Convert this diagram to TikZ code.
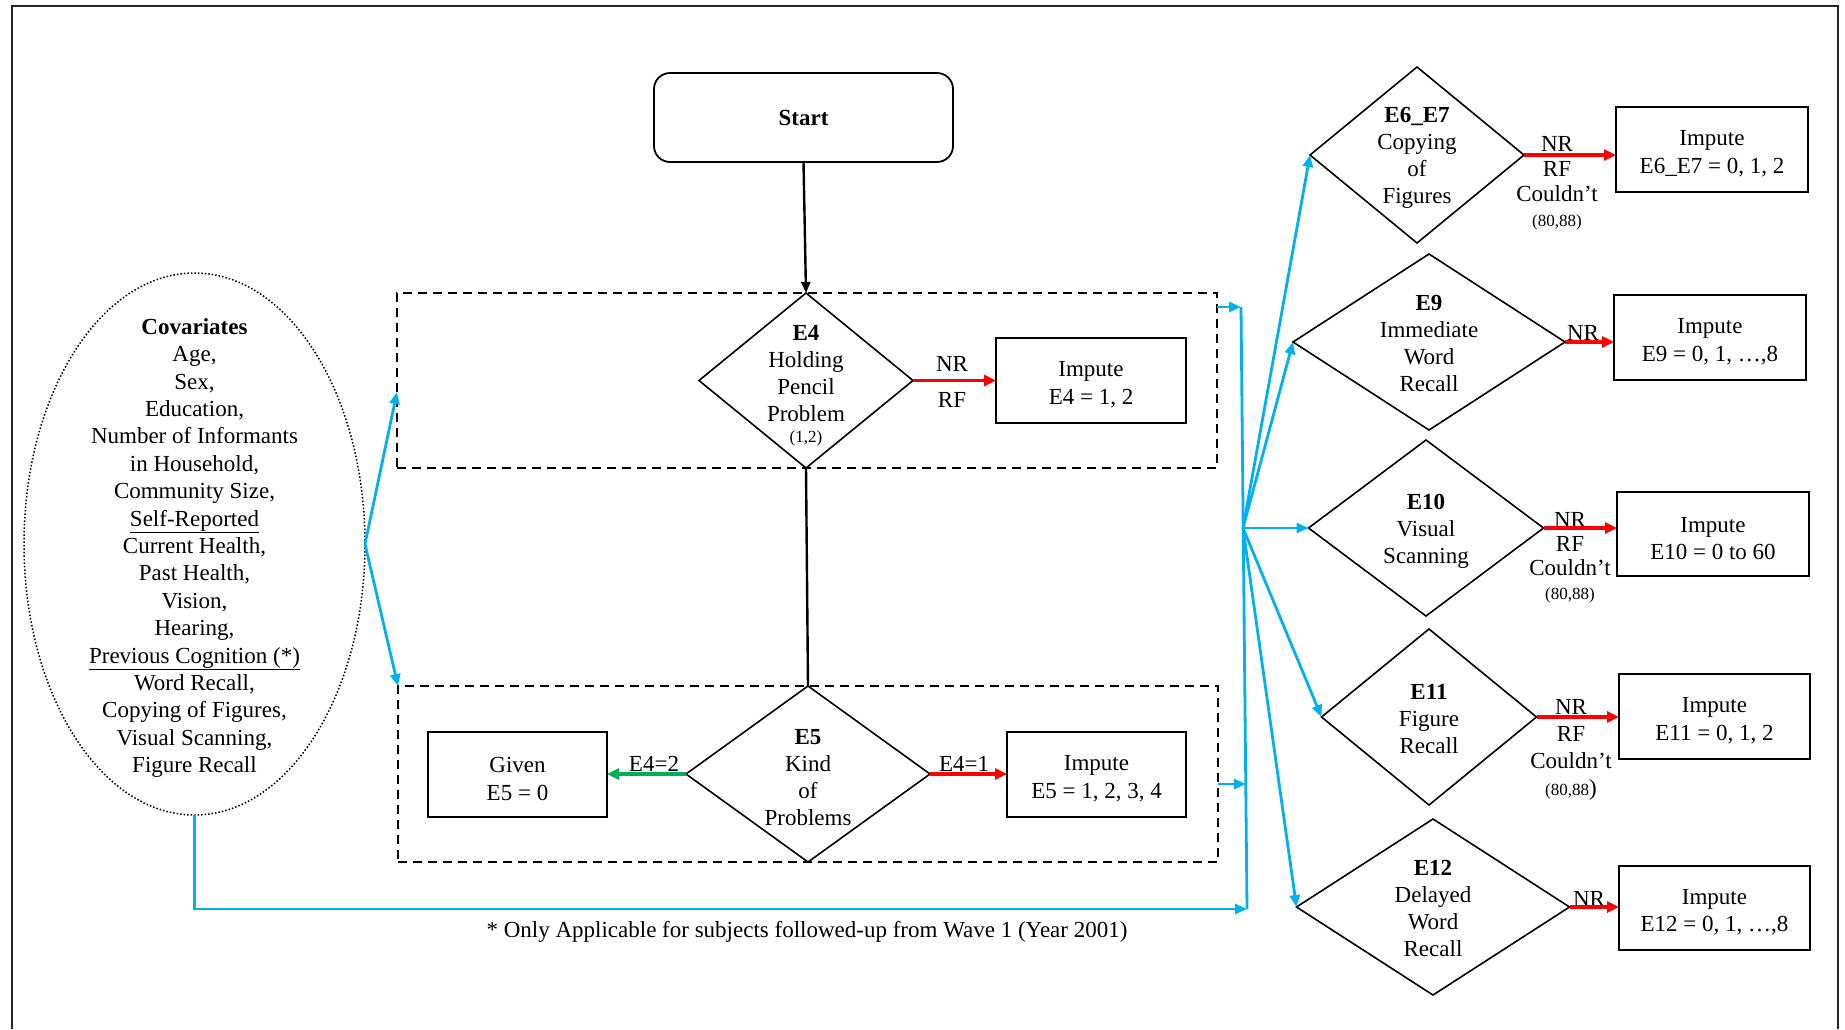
\documentclass[tikz,border=0pt]{standalone}
\usepackage{fontspec}
\setmainfont{Liberation Serif}
\usetikzlibrary{shapes.geometric,arrows.meta,calc}
\definecolor{skyb}{HTML}{00B0F0}
\definecolor{redc}{HTML}{FF0000}
\definecolor{grnc}{HTML}{00B050}
\newcommand\bxs{\rule{0pt}{24pt}}
\begin{document}
\begin{tikzpicture}[x=1pt,y=-1pt,
  every node/.style={font=\fontsize{23}{29}\selectfont},
  dia/.style={diamond, draw, line width=1.6, inner sep=0, outer sep=0},
  ibox/.style={rectangle, draw, line width=1.8, inner sep=0, outer sep=0, align=center, font=\fontsize{23}{27.5}\selectfont},
  dbox/.style={rectangle, draw, line width=1.6, dash pattern=on 9 off 6, inner sep=0, outer sep=0},
  dtx/.style={align=center, inner sep=0, font=\fontsize{23}{27}\selectfont},
  lbl/.style={align=center, inner sep=0, font=\fontsize{23}{25}\selectfont},
  bluearr/.style={draw=skyb, line width=2.8, -{Triangle[length=12,width=10]}},
  blueln/.style={draw=skyb, line width=2.8},
  redarr/.style={draw=redc, line width=3.2, -{Triangle[length=12,width=11]}},
  grnarr/.style={draw=grnc, line width=3.2, -{Triangle[length=12,width=11]}},
  blkarr/.style={draw=black, line width=2.4, -{Triangle[length=11,width=9]}},
  blkln/.style={draw=black, line width=2.4}
]
\path[use as bounding box] (0,0) rectangle (1845,1029);
% frame
\draw[line width=2, black!85] (12,1029) -- (12,6) -- (1838,6) -- (1838,1029);

% covariates ellipse
\node[ellipse, draw, line width=1.5, dash pattern=on 1.5 off 2, minimum width=341, minimum height=542, inner sep=0, outer sep=0] (cov) at (194.5,544) {};
\node[align=center, inner sep=0, font=\fontsize{23}{27.4}\selectfont] (covt) at (194.5,548) {\textbf{Covariates}\\Age,\\Sex,\\Education,\\Number of Informants\\in Household,\\Community Size,\\\underline{Self-Reported}\\Current Health,\\Past Health,\\Vision,\\Hearing,\\\underline{Previous Cognition (*)}\\Word Recall,\\Copying of Figures,\\Visual Scanning,\\Figure Recall};

% start
\node[ibox, rounded corners=16, minimum width=299, minimum height=89] (start) at (803.5,117.5) {\textbf{Start}};

% dashed groups
\node[dbox, minimum width=820, minimum height=175] (g1) at (807,380.5) {};
\node[dbox, minimum width=820, minimum height=176] (g2) at (808,774) {};

% E4
\node[dia, minimum width=214, minimum height=175] (e4) at (806,380.5) {};
\node[dtx] (e4t) at (806,386) {\textbf{E4}\\Holding\\Pencil\\Problem\\[-6pt]{\fontsize{17}{20}\selectfont (1,2)}};
\node[ibox, minimum width=190, minimum height=85] (imp4) at (1091,380.5) {\bxs Impute\\E4 = 1, 2};
\node[align=center, inner sep=0, font=\fontsize{23}{36}\selectfont] (l4) at (952,382) {NR\\RF};

% E5
\node[dia, minimum width=244, minimum height=176] (e5) at (808,774) {};
\node[dtx] (e5t) at (808,778) {\textbf{E5}\\Kind\\of\\Problems};
\node[ibox, minimum width=179, minimum height=85] (given) at (517.5,774.5) {\bxs Given\\E5 = 0};
\node[ibox, minimum width=179, minimum height=85] (imp5) at (1096.5,774.5) {\bxs Impute\\E5 = 1, 2, 3, 4};
\node[inner sep=0] (l52) at (654,764) {E4=2};
\node[inner sep=0] (l51) at (964,764) {E4=1};

% right column diamonds
\node[dia, minimum width=214, minimum height=176] (e67) at (1417,155) {};
\node[dtx] (e67t) at (1417,158) {\textbf{E6\_E7}\\Copying\\of\\Figures};
\node[dia, minimum width=272, minimum height=176] (e9) at (1429,342) {};
\node[dtx] (e9t) at (1429,343) {\textbf{E9}\\Immediate\\Word\\Recall};
\node[dia, minimum width=235, minimum height=176] (e10) at (1426,528) {};
\node[dtx] (e10t) at (1426,531) {\textbf{E10}\\Visual\\Scanning};
\node[dia, minimum width=215, minimum height=176] (e11) at (1429,717) {};
\node[dtx] (e11t) at (1429,719) {\textbf{E11}\\Figure\\Recall};
\node[dia, minimum width=273, minimum height=176] (e12) at (1433,907) {};
\node[dtx] (e12t) at (1433,908) {\textbf{E12}\\Delayed\\Word\\Recall};

% right column boxes
\node[ibox, minimum width=192, minimum height=85] (imp67) at (1712,149.5) {\bxs Impute\\E6\_E7 = 0, 1, 2};
\node[ibox, minimum width=192, minimum height=85] (imp9) at (1710,337.5) {\bxs Impute\\E9 = 0, 1, …,8};
\node[ibox, minimum width=192, minimum height=84] (imp10) at (1713,534) {\bxs Impute\\E10 = 0 to 60};
\node[ibox, minimum width=191, minimum height=85] (imp11) at (1714.5,716.5) {\bxs Impute\\E11 = 0, 1, 2};
\node[ibox, minimum width=191, minimum height=84] (imp12) at (1714.5,908) {\bxs Impute\\E12 = 0, 1, …,8};

% right labels
\node[lbl] (l67) at (1557,183) {NR\\RF\\Couldn’t\\{\fontsize{17}{20}\selectfont (80,88)}};
\node[inner sep=0] (l9) at (1583,333) {NR};
\node[lbl, font=\fontsize{23}{24}\selectfont] (l10) at (1570,558) {NR\\RF\\Couldn’t\\{\fontsize{17}{20}\selectfont (80,88)}};
\node[lbl, font=\fontsize{23}{27}\selectfont] (l11) at (1571,750) {NR\\RF\\Couldn’t\\{\fontsize{17}{20}\selectfont (80,88}{)}};
\node[inner sep=0] (l12) at (1589,899) {NR};

% footnote
\node[inner sep=0] (foot) at (807,932) {* Only Applicable for subjects followed-up from Wave 1 (Year 2001)};

% black connectors
\draw[blkarr] (start.south) -- (e4.north);
\draw[blkln] (e4.south) -- (e5.north);

% red / green
\draw[redarr] (e4.east) -- (e4.east -| imp4.west);
\draw[redarr] (e5.east) -- (e5.east -| imp5.west);
\draw[grnarr] (e5.west) -- (e5.west -| given.east);
\draw[redarr] (e67.east) -- (e67.east -| imp67.west);
\draw[redarr] (e9.east) -- (e9.east -| imp9.west);
\draw[redarr] (e10.east) -- (e10.east -| imp10.west);
\draw[redarr] (e11.east) -- (e11.east -| imp11.west);
\draw[redarr] (e12.east) -- (e12.east -| imp12.west);

% blue connectors
\coordinate (g1in) at (397,392);
\coordinate (bustop) at (1241,307);
\coordinate (busmid) at (1246,784);
\coordinate (busbot) at (1247,909);
\coordinate (hub) at (1243,528);
\draw[bluearr] (cov.east) -- (g1in);
\draw[bluearr] (cov.east) -- (g2.north west);
\draw[bluearr] (cov.south) |- (busbot);
\draw[blueln] (bustop) -- (busbot);
\draw[bluearr] (g1.east |- bustop) -- (bustop);
\draw[bluearr] (g2.east |- busmid) -- (busmid);
\draw[bluearr] (hub) -- (e67.west);
\draw[bluearr] (hub) -- (e9.west);
\draw[bluearr] (hub) -- (e10.west);
\draw[bluearr] (hub) -- (e11.west);
\draw[bluearr] (hub) -- (e12.west);
\end{tikzpicture}
\end{document}
